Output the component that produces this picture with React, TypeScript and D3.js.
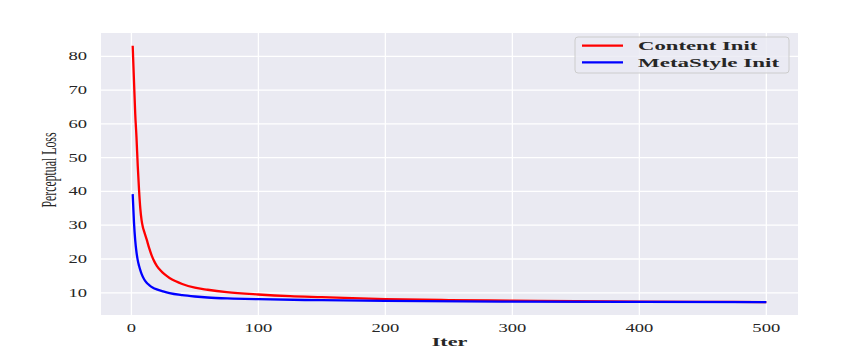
import * as d3 from 'd3';

const contentIters = [1, 2, 3, 4, 5, 6, 7, 8, 9, 10, 12, 14, 16, 18, 20, 23, 26, 30, 35, 40, 50, 60, 75, 100, 125, 150, 200, 250, 300, 350, 400, 450, 500];
const contentLoss = [83.1, 73, 63, 56, 47.5, 40.5, 35, 31.5, 29.5, 28.2, 25.8, 23.2, 21, 19.3, 18, 16.6, 15.5, 14.4, 13.4, 12.6, 11.5, 10.9, 10.2, 9.5, 9.0, 8.7, 8.1, 7.85, 7.65, 7.5, 7.4, 7.32, 7.25];

const metaIters = [1, 2, 3, 4, 5, 6, 7, 8, 10, 12, 14, 17, 20, 25, 30, 40, 50, 60, 80, 100, 150, 200, 300, 400, 500];
const metaLoss = [39.2, 31, 25.5, 22, 19.6, 18, 16.7, 15.6, 14, 13, 12.3, 11.5, 11, 10.4, 9.9, 9.3, 8.9, 8.6, 8.3, 8.1, 7.8, 7.6, 7.4, 7.3, 7.22];

const xTicks = [0, 100, 200, 300, 400, 500];
const yTicks = [10, 20, 30, 40, 50, 60, 70, 80];

const seriesNames = ['Content Init', 'MetaStyle Init'];
const seriesColors = ['#ff0000', '#0000ff'];

const W = 867;
const H = 354;
const plot = { left: 101, right: 798, top: 33, bottom: 315 };
const SX = 1.55; // the original figure is stretched sideways
const serif = '"Liberation Serif", "DejaVu Serif", serif';

const Stretched = ({ x, y, anchor = 'middle', size = 12, weight = 'normal', family = serif, len, children }: any) => (
  <g transform={`translate(${x},${y}) scale(${SX},1)`}>
    <text
      textAnchor={anchor}
      fontSize={size}
      fontWeight={weight}
      fontFamily={family}
      fill="#262626"
      textLength={len}
      lengthAdjust={len ? 'spacingAndGlyphs' : undefined}
    >
      {children}
    </text>
  </g>
);

export default function App() {
  const series = [
    contentIters.map((it, i) => ({ it, v: contentLoss[i] })),
    metaIters.map((it, i) => ({ it, v: metaLoss[i] })),
  ];

  const allX = [...contentIters, ...metaIters];
  const allY = [...contentLoss, ...metaLoss];
  const [x0, x1] = d3.extent(allX) as [number, number];
  const [y0, y1] = d3.extent(allY) as [number, number];
  const mx = (x1 - x0) * 0.05;
  const my = (y1 - y0) * 0.05;

  const x = d3.scaleLinear().domain([x0 - mx, x1 + mx]).range([plot.left, plot.right]);
  const y = d3.scaleLinear().domain([y0 - my, y1 + my]).range([plot.bottom, plot.top]);

  const line = d3
    .line<{ it: number; v: number }>()
    .x(d => x(d.it))
    .y(d => y(d.v))
    .curve(d3.curveMonotoneX);

  return (
    <svg width={W} height={H} style={{ position: 'absolute', left: 0, top: 0, background: '#fff' }}>
      <rect x={plot.left} y={plot.top} width={plot.right - plot.left} height={plot.bottom - plot.top} fill="#eaeaf2" />
      <clipPath id="plotclip">
        <rect x={plot.left} y={plot.top} width={plot.right - plot.left} height={plot.bottom - plot.top} />
      </clipPath>

      {xTicks.map(t => (
        <line key={'gx' + t} x1={x(t)} x2={x(t)} y1={plot.top} y2={plot.bottom} stroke="#fff" strokeWidth={1.3} />
      ))}
      {yTicks.map(t => (
        <line key={'gy' + t} x1={plot.left} x2={plot.right} y1={y(t)} y2={y(t)} stroke="#fff" strokeWidth={1.3} />
      ))}

      <g clipPath="url(#plotclip)">
        {series.map((s, i) => (
          <path key={seriesNames[i]} d={line(s) || ''} fill="none" stroke={seriesColors[i]} strokeWidth={2.3} strokeLinejoin="round" />
        ))}
      </g>

      {xTicks.map(t => (
        <Stretched key={'tx' + t} x={x(t)} y={332}>{t}</Stretched>
      ))}
      {yTicks.map(t => (
        <Stretched key={'ty' + t} x={87} y={y(t) + 4} anchor="end">{t}</Stretched>
      ))}

      <Stretched x={(plot.left + plot.right) / 2} y={346} weight="bold" size={12} len={23}>Iter</Stretched>

      <g transform={`translate(56,170) scale(${SX},1) rotate(-90)`}>
        <text textAnchor="middle" fontSize={13.5} fontFamily={serif} fill="#262626" textLength={75} lengthAdjust="spacingAndGlyphs">
          Perceptual Loss
        </text>
      </g>

      <rect x={575} y={37} width={214} height={36} rx={3} fill="#eaeaf2" fillOpacity={0.8} stroke="#cccccc" strokeWidth={1} />
      {seriesNames.map((name, i) => (
        <g key={'lg' + name}>
          <line x1={582} x2={623} y1={45.7 + i * 16.6} y2={45.7 + i * 16.6} stroke={seriesColors[i]} strokeWidth={2.2} />
          <Stretched x={638} y={50 + i * 16.6} anchor="start" weight="bold" size={11.5} len={i === 0 ? 77 : 91}>
            {name}
          </Stretched>
        </g>
      ))}
    </svg>
  );
}
